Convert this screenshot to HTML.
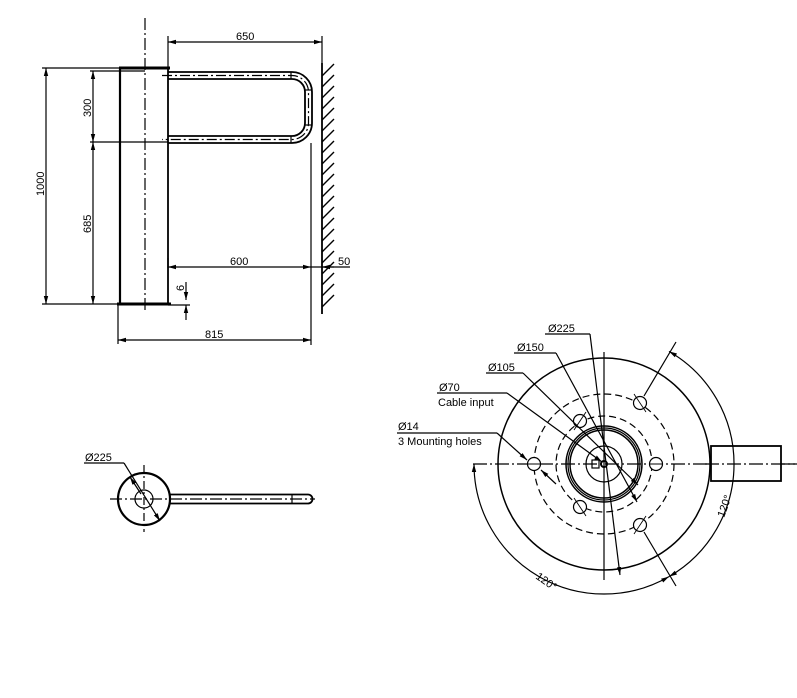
<!DOCTYPE html>
<html><head><meta charset="utf-8"><style>
html,body{margin:0;padding:0;background:#fff;}
svg{display:block;}
text{font-family:"Liberation Sans",sans-serif;font-size:11px;fill:#000;}
</style></head><body>
<svg width="797" height="698" viewBox="0 0 797 698" xmlns="http://www.w3.org/2000/svg">
<defs>
<marker id="a" markerWidth="8" markerHeight="6" refX="8" refY="3" orient="auto-start-reverse" markerUnits="userSpaceOnUse"><path d="M0,0.8 L8,3 L0,5.2z" fill="#000"/></marker>
</defs>
<g stroke="#000" fill="none" stroke-width="1.2">
<line x1="145" y1="18" x2="145" y2="310" stroke-dasharray="12,3,2,3"/>
<line x1="120" y1="68" x2="120" y2="304" stroke-width="2.2"/>
<line x1="168" y1="68" x2="168" y2="304" stroke-width="1.8"/>
<line x1="119" y1="68" x2="170" y2="68" stroke-width="3"/>
<line x1="117" y1="304" x2="171" y2="304" stroke-width="3"/>
<path d="M168,72 H292 A20,20 0 0 1 312,92 V123 A20,20 0 0 1 292,143 H168" stroke-width="1.8"/>
<path d="M168,79 H292 A13,13 0 0 1 305,92 V123 A13,13 0 0 1 292,136 H168" stroke-width="1.8"/>
<path d="M162,75.5 H292 A16.5,16.5 0 0 1 308.5,92 V123 A16.5,16.5 0 0 1 292,139.5 H162" stroke-dasharray="10,3,2,3"/>
<line x1="291" y1="72" x2="291" y2="79"/><line x1="291" y1="136" x2="291" y2="143"/>
<line x1="305" y1="90" x2="312" y2="90"/><line x1="305" y1="125" x2="312" y2="125"/>
<line x1="311" y1="143" x2="311" y2="345"/>
<line x1="322" y1="63" x2="322" y2="314" stroke-width="1.8"/>
<path stroke-width="1.4" d="M322,76 L334,64 M322,87 L334,75 M322,98 L334,86 M322,109 L334,97 M322,120 L334,108 M322,131 L334,119 M322,142 L334,130 M322,153 L334,141 M322,164 L334,152 M322,175 L334,163 M322,186 L334,174 M322,197 L334,185 M322,208 L334,196 M322,219 L334,207 M322,230 L334,218 M322,241 L334,229 M322,252 L334,240 M322,263 L334,251 M322,274 L334,262 M322,285 L334,273 M322,296 L334,284 M322,307 L334,295"/>
<line x1="168" y1="68" x2="168" y2="36"/>
<line x1="322" y1="36" x2="322" y2="63"/>
<line x1="168" y1="42" x2="322" y2="42" marker-start="url(#a)" marker-end="url(#a)"/>
<line x1="42" y1="68" x2="120" y2="68"/>
<line x1="42" y1="304" x2="120" y2="304"/>
<line x1="46" y1="68" x2="46" y2="304" marker-start="url(#a)" marker-end="url(#a)"/>
<line x1="90" y1="71" x2="145" y2="71"/>
<line x1="90" y1="142" x2="168" y2="142"/>
<line x1="93" y1="71" x2="93" y2="142" marker-start="url(#a)" marker-end="url(#a)"/>
<line x1="93" y1="142" x2="93" y2="304" marker-start="url(#a)" marker-end="url(#a)"/>
<line x1="168" y1="258" x2="168" y2="268"/>
<line x1="168" y1="267" x2="311" y2="267" marker-start="url(#a)" marker-end="url(#a)"/>
<line x1="311" y1="267" x2="350" y2="267"/>
<line x1="334" y1="267" x2="322" y2="267" marker-end="url(#a)"/>
<line x1="186" y1="282" x2="186" y2="300" marker-end="url(#a)"/>
<line x1="186" y1="320" x2="186" y2="305" marker-end="url(#a)"/>
<line x1="168" y1="305" x2="190" y2="305"/>
<line x1="118" y1="304" x2="118" y2="344"/>
<line x1="118" y1="340" x2="311" y2="340" marker-start="url(#a)" marker-end="url(#a)"/>
<line x1="144" y1="465" x2="144" y2="532" stroke-dasharray="8,3,2,3"/>
<line x1="110" y1="499" x2="315" y2="499" stroke-dasharray="12,3,2,3"/>
<circle cx="144" cy="499" r="26" stroke-width="2.2"/>
<circle cx="144" cy="499" r="9"/>
<path d="M170,494.5 H308 A4.5,4.5 0 0 1 308,503.5 H170" stroke-width="1.8"/>
<line x1="292" y1="494.5" x2="292" y2="503.5"/>
<line x1="84" y1="463" x2="124" y2="463"/>
<line x1="124" y1="463" x2="160" y2="521" marker-end="url(#a)"/>
<line x1="141" y1="494" x2="130" y2="477" marker-end="url(#a)"/>
<circle cx="604" cy="464" r="106" stroke-width="1.5"/>
<circle cx="604" cy="464" r="70" stroke-dasharray="7,4"/>
<circle cx="604" cy="464" r="48" stroke-dasharray="7,4"/>
<circle cx="604" cy="464" r="38" stroke-width="1.5"/>
<circle cx="604" cy="464" r="36"/>
<circle cx="604" cy="464" r="34" stroke-width="1.5"/>
<circle cx="604" cy="464" r="18"/>
<circle cx="604" cy="464" r="3" stroke-width="2"/>
<rect x="592" y="460" width="7" height="8"/>
<line x1="473" y1="464" x2="797" y2="464" stroke-dasharray="14,3,2,3"/>
<line x1="604" y1="352" x2="604" y2="580"/>
<rect x="711" y="446" width="70" height="35" stroke-width="1.8" fill="#fff"/>
<line x1="705" y1="464" x2="797" y2="464" stroke-dasharray="14,3,2,3"/>
<g fill="#fff">
<circle cx="534" cy="464" r="6.5"/><circle cx="640" cy="403" r="6.5"/><circle cx="640" cy="525" r="6.5"/>
<circle cx="656" cy="464" r="6.5"/><circle cx="580" cy="421" r="6.5"/><circle cx="580" cy="507" r="6.5"/>
</g>
<path d="M520,464 H548 M634,394 L646,412 M634,534 L646,516 M650,464 H662 M574,430 L586,412 M574,498 L586,516" stroke-width="0.9"/>
<line x1="545" y1="334" x2="590" y2="334"/>
<line x1="590" y1="334" x2="620" y2="575" marker-end="url(#a)"/>
<line x1="514" y1="353" x2="556" y2="353"/>
<line x1="556" y1="353" x2="637" y2="502" marker-end="url(#a)"/>
<line x1="486" y1="373" x2="523" y2="373"/>
<line x1="523" y1="373" x2="638" y2="485" marker-end="url(#a)"/>
<line x1="437" y1="393" x2="507" y2="393"/>
<line x1="507" y1="393" x2="602" y2="462" marker-end="url(#a)"/>
<line x1="397" y1="433" x2="497" y2="433"/>
<line x1="497" y1="433" x2="527" y2="460" marker-end="url(#a)"/>
<line x1="556" y1="484" x2="541" y2="470" marker-end="url(#a)"/>
<line x1="644" y1="396" x2="676" y2="342"/>
<line x1="644" y1="532" x2="676" y2="586"/>
<path d="M474,464 A130,130 0 0 0 669,576.6" marker-start="url(#a)" marker-end="url(#a)"/>
<path d="M669,576.6 A130,130 0 0 0 669,351.4" marker-start="url(#a)" marker-end="url(#a)"/>
</g>
<g>
<text x="236" y="40">650</text>
<text x="230" y="265">600</text>
<text x="338" y="265">50</text>
<text x="205" y="338">815</text>
<text transform="translate(44,196) rotate(-90)">1000</text>
<text transform="translate(91,117) rotate(-90)">300</text>
<text transform="translate(91,233) rotate(-90)">685</text>
<text transform="translate(184,291) rotate(-90)">6</text>
<text x="85" y="461">Ø225</text>
<text x="548" y="332">Ø225</text>
<text x="517" y="351">Ø150</text>
<text x="488" y="371">Ø105</text>
<text x="439" y="391">Ø70</text>
<text x="438" y="406">Cable input</text>
<text x="398" y="430">Ø14</text>
<text x="398" y="445">3 Mounting holes</text>
<text transform="translate(535,578) rotate(35)" font-size="10">120°</text>
<text transform="translate(724,518) rotate(-70)" font-size="10">120°</text>
</g>
</svg>
</body></html>
